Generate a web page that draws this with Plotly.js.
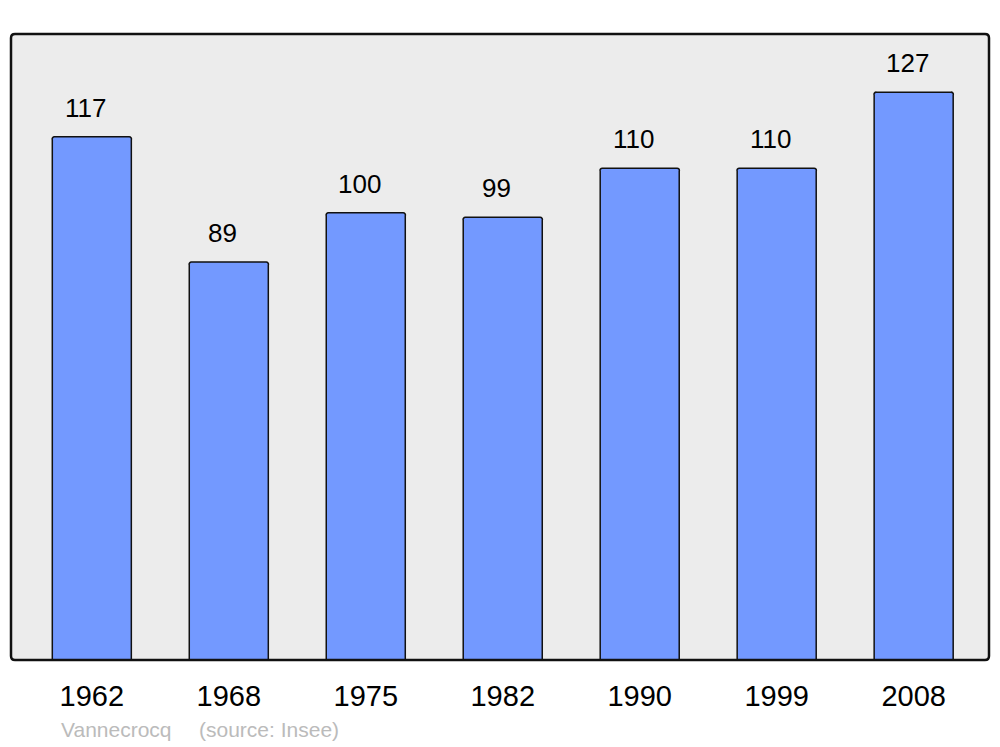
<!DOCTYPE html>
<html>
<head>
<meta charset="utf-8">
<script src="https://cdn.plot.ly/plotly-3.0.1.min.js"></script>
<style>html,body{margin:0;padding:0;background:#fff;}#chart{width:1000px;height:747px;}</style>
</head>
<body>
<div id="chart"></div>
<script>
const years = ['1962', '1968', '1975', '1982', '1990', '1999', '2008'];
const population = [117, 89, 100, 99, 110, 110, 127];
const communeName = 'Vannecrocq';
const sourceNote = '(source: Insee)';

const FONT = 'Liberation Sans, Arial, sans-serif';

const trace = {
  type: 'bar',
  x: years,
  y: population,
  width: 0.577,
  marker: {
    color: '#7399ff',
    line: {color: '#111111', width: 1.5},
    cornerradius: 3
  },
  hoverinfo: 'skip'
};

const valueLabels = population.map((v, i) => ({
  x: i, y: v, xref: 'x', yref: 'y',
  text: String(v),
  showarrow: false, xanchor: 'center', yanchor: 'bottom',
  xshift: -6, yshift: 12,
  font: {family: FONT, size: 26, color: '#000'}
}));

// rounded frame path in paper coords (plot area 978 x 626 px, radius ~4px)
const rx = 4 / 978, ry = 4 / 626;
const framePath = `M ${rx},0 L ${1 - rx},0 Q 1,0 1,${ry} L 1,${1 - ry} Q 1,1 ${1 - rx},1 ` +
  `L ${rx},1 Q 0,1 0,${1 - ry} L 0,${ry} Q 0,0 ${rx},0 Z`;

const layout = {
  width: 1000, height: 747,
  margin: {l: 11, r: 11, t: 34, b: 87},
  paper_bgcolor: '#ffffff',
  plot_bgcolor: '#ececec',
  showlegend: false,
  bargap: 0,
  xaxis: {
    type: 'category',
    range: [-0.59, 6.55],
    showgrid: false, zeroline: false, showline: false,
    ticks: '',
    ticklabelstandoff: 16,
    tickfont: {family: FONT, size: 29, color: '#000'},
    fixedrange: true
  },
  yaxis: {
    range: [0, 140],
    showgrid: false, zeroline: false, showline: false,
    showticklabels: false, ticks: '',
    fixedrange: true
  },
  shapes: [{
    type: 'path', xref: 'paper', yref: 'paper',
    path: framePath,
    line: {color: '#111111', width: 2.5},
    fillcolor: 'rgba(0,0,0,0)',
    layer: 'above'
  }],
  annotations: valueLabels.concat([{
    xref: 'paper', yref: 'paper',
    x: 0.0491, y: -0.1118,
    xanchor: 'left', yanchor: 'middle',
    text: communeName, showarrow: false,
    font: {family: FONT, size: 21, color: '#bbbbbb'}
  }, {
    xref: 'paper', yref: 'paper',
    x: 0.1902, y: -0.1118,
    xanchor: 'left', yanchor: 'middle',
    text: sourceNote, showarrow: false,
    font: {family: FONT, size: 21, color: '#bbbbbb'}
  }])
};

Plotly.newPlot('chart', [trace], layout, {displayModeBar: false, staticPlot: true});
</script>
</body>
</html>
